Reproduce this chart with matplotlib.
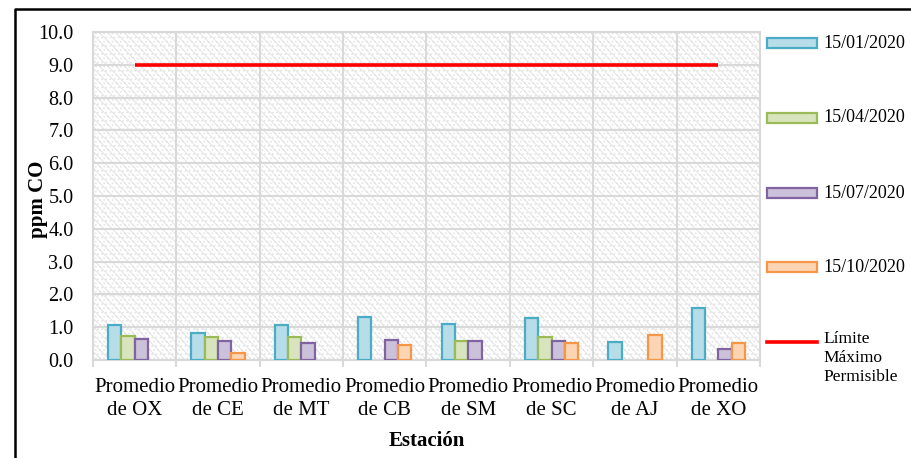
import numpy as np
import matplotlib
matplotlib.use("Agg")
import matplotlib.pyplot as plt
from matplotlib.patches import Rectangle
from matplotlib.lines import Line2D

plt.rcParams['font.family'] = ['Liberation Serif', 'DejaVu Serif']
plt.rcParams['hatch.linewidth'] = 0.7

estaciones = ["Promedio\nde OX", "Promedio\nde CE", "Promedio\nde MT", "Promedio\nde CB",
              "Promedio\nde SM", "Promedio\nde SC", "Promedio\nde AJ", "Promedio\nde XO"]
fechas = ["15/01/2020", "15/04/2020", "15/07/2020", "15/10/2020"]
ene = [1.07, 0.83, 1.07, 1.32, 1.09, 1.29, 0.55, 1.58]
abr = [0.74, 0.69, 0.69, np.nan, 0.59, 0.69, np.nan, np.nan]
jul = [0.63, 0.57, 0.51, 0.61, 0.57, 0.57, np.nan, 0.33]
octu = [np.nan, 0.20, np.nan, 0.46, np.nan, 0.52, 0.75, 0.51]
limite = [9.0] * 8
limite_label = "Límite\nMáximo\nPermisible"

caras = ["#b7dde8", "#d7e4bd", "#ccc1da", "#fcd5b5"]
bordes = ["#4bacc6", "#9bbb59", "#8064a2", "#f79646"]
grid_c = "#d9d9d9"

fig = plt.figure(figsize=(9.12, 4.58), dpi=100)
ax = fig.add_axes([93/912, 1-360/458, (760-93)/912, (360-32)/458])

# hatched background
ax.add_patch(Rectangle((0, 0), 1, 1, transform=ax.transAxes, facecolor="white",
                       edgecolor="#e4e4e4", hatch="\\\\\\\\....", linewidth=0, zorder=0))

x = np.arange(len(estaciones))
w = 0.16
series = [ene, abr, jul, octu]
for i, vals in enumerate(series):
    ax.bar(x + (i - 1.5) * w, vals, width=w, color=caras[i], edgecolor=bordes[i],
           linewidth=1.6, zorder=3)

ax.plot(x, limite, color="#ff0000", linewidth=2.6, zorder=4, solid_capstyle="butt")

ax.set_xlim(-0.5, 7.5)
ax.set_ylim(0, 10)
ax.set_yticks(np.arange(0, 10.1, 1.0))
ax.set_yticklabels([f"{v:.1f}" for v in np.arange(0, 10.1, 1.0)], fontsize=14.5)
ax.tick_params(axis="y", length=0, pad=14)
ax.set_xticks(x)
ax.set_xticklabels(estaciones, fontsize=15, linespacing=1.25)
ax.set_xticks(np.arange(-0.5, 8, 1), minor=True)
ax.tick_params(axis="x", which="major", length=0, pad=13)
ax.tick_params(axis="x", which="minor", length=5, width=1.5, color=grid_c)
ax.grid(True, which="major", axis="y", color=grid_c, linewidth=1.5, zorder=1)
ax.grid(True, which="minor", axis="x", color=grid_c, linewidth=1.5, zorder=1)
ax.set_axisbelow(True)
for s in ax.spines.values():
    s.set_color(grid_c)
    s.set_linewidth(1.5)

ax.set_xlabel("Estación", fontsize=15, fontweight="bold", labelpad=8)
ax.set_ylabel("ppm CO", fontsize=15, fontweight="bold")
ax.yaxis.set_label_coords(-0.067, 0.49)

# legend drawn by hand
ys = [43, 118, 193, 267]
for i, lab in enumerate(fechas):
    yc = 1 - ys[i] / 458
    fig.patches.append(Rectangle((767/912, yc - 5/458), 50/912, 10/458, transform=fig.transFigure,
                                 facecolor=caras[i], edgecolor=bordes[i], linewidth=1.6))
    fig.text(823/912, yc, lab, fontsize=13, va="center", ha="left")
yr = 1 - 342/458
fig.lines.append(Line2D([767/912, 817/912], [yr, yr], transform=fig.transFigure,
                        color="#ff0000", linewidth=2.6))
fig.text(823/912, 1 - 331/458, limite_label, fontsize=12.5, va="top", ha="left", linespacing=1.25)

# outer frame (left and top)
fig.lines.append(Line2D([15/912, 15/912, 1], [0, 1 - 9/458, 1 - 9/458],
                        transform=fig.transFigure, color="black", linewidth=1.8))

fig.savefig("out.png", dpi=100)
